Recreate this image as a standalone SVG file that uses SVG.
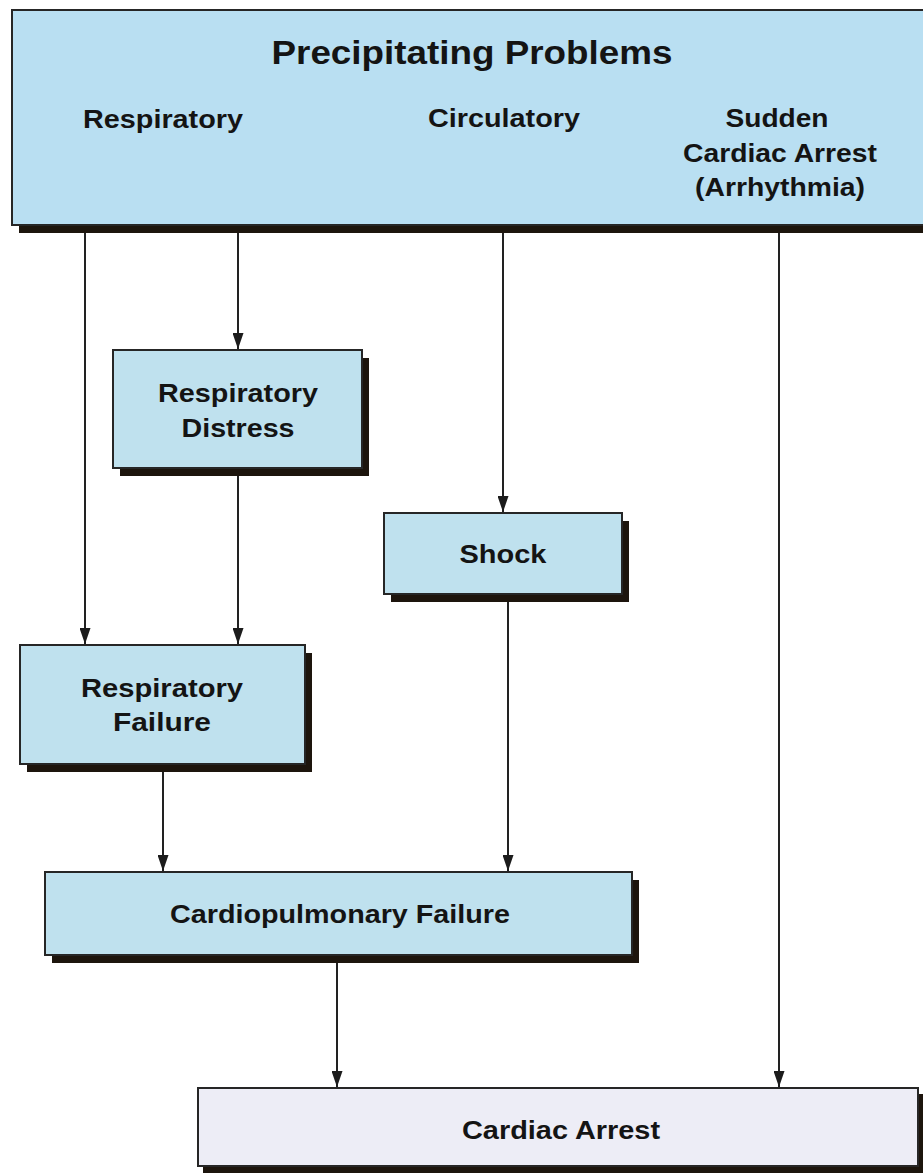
<svg xmlns="http://www.w3.org/2000/svg" width="923" height="1173" viewBox="0 0 923 1173">
  <defs>
    <style>
      .shadow { fill: #1d150d; }
      .box { fill: #bfe1ee; stroke: #262626; stroke-width: 2; }
      .top { fill: #b9dff2; stroke: #262626; stroke-width: 2; }
      .final { fill: #ededf6; stroke: #262626; stroke-width: 2; }
      .lbl { font-family: "Liberation Sans", Arial, sans-serif; font-weight: bold; fill: #141414; text-anchor: middle; font-size: 25px; }
      .title { font-size: 33px; }
      .edge { stroke: #222; stroke-width: 2; fill: none; marker-end: url(#arrow); }
    </style>
    <marker id="arrow" viewBox="0 0 16 11" refX="16" refY="5.5" markerWidth="16" markerHeight="11" markerUnits="userSpaceOnUse" orient="auto">
      <path d="M0,0 L16,5.5 L0,11 z" fill="#1c1c1c"/>
    </marker>
  </defs>

  <rect width="923" height="1173" fill="#ffffff"/>

  <!-- Header: precipitating problems -->
  <g id="precipitating-problems">
    <rect class="shadow" x="19" y="18" width="930" height="215"/>
    <rect class="top" x="12" y="10" width="930" height="215"/>
    <text class="lbl title" x="472" y="64" textLength="401" lengthAdjust="spacingAndGlyphs">Precipitating Problems</text>
    <text class="lbl" x="163" y="128" textLength="160" lengthAdjust="spacingAndGlyphs">Respiratory</text>
    <text class="lbl" x="504" y="127" textLength="152" lengthAdjust="spacingAndGlyphs">Circulatory</text>
    <text class="lbl" x="777" y="127" textLength="103" lengthAdjust="spacingAndGlyphs">Sudden</text>
    <text class="lbl" x="780" y="162" textLength="194" lengthAdjust="spacingAndGlyphs">Cardiac Arrest</text>
    <text class="lbl" x="780" y="196" textLength="170" lengthAdjust="spacingAndGlyphs">(Arrhythmia)</text>
  </g>

  <g id="respiratory-distress">
    <rect class="shadow" x="120" y="358" width="249" height="118"/>
    <rect class="box" x="113" y="350" width="249" height="118"/>
    <text class="lbl" x="238" y="402" textLength="160" lengthAdjust="spacingAndGlyphs">Respiratory</text>
    <text class="lbl" x="238" y="437" textLength="113" lengthAdjust="spacingAndGlyphs">Distress</text>
  </g>

  <g id="shock">
    <rect class="shadow" x="391" y="521" width="238" height="81"/>
    <rect class="box" x="384" y="513" width="238" height="81"/>
    <text class="lbl" x="503" y="563" textLength="87" lengthAdjust="spacingAndGlyphs">Shock</text>
  </g>

  <g id="respiratory-failure">
    <rect class="shadow" x="27" y="653" width="285" height="119"/>
    <rect class="box" x="20" y="645" width="285" height="119"/>
    <text class="lbl" x="162" y="697" textLength="162" lengthAdjust="spacingAndGlyphs">Respiratory</text>
    <text class="lbl" x="162" y="731" textLength="98" lengthAdjust="spacingAndGlyphs">Failure</text>
  </g>

  <g id="cardiopulmonary-failure">
    <rect class="shadow" x="52" y="880" width="587" height="83"/>
    <rect class="box" x="45" y="872" width="587" height="83"/>
    <text class="lbl" x="340" y="923" textLength="340" lengthAdjust="spacingAndGlyphs">Cardiopulmonary Failure</text>
  </g>

  <g id="cardiac-arrest">
    <rect class="shadow" x="203" y="1094" width="720" height="79"/>
    <rect class="final" x="198" y="1088" width="720" height="78"/>
    <text class="lbl" x="561" y="1139" textLength="198" lengthAdjust="spacingAndGlyphs">Cardiac Arrest</text>
  </g>

  <!-- Connectors -->
  <g id="connectors">
    <line class="edge" x1="85" y1="233" x2="85" y2="644"/>
    <line class="edge" x1="238" y1="233" x2="238" y2="349"/>
    <line class="edge" x1="238" y1="476" x2="238" y2="644"/>
    <line class="edge" x1="503" y1="233" x2="503" y2="512"/>
    <line class="edge" x1="779" y1="233" x2="779" y2="1087"/>
    <line class="edge" x1="163" y1="772" x2="163" y2="871"/>
    <line class="edge" x1="508" y1="602" x2="508" y2="871"/>
    <line class="edge" x1="337" y1="963" x2="337" y2="1087"/>
  </g>
</svg>
